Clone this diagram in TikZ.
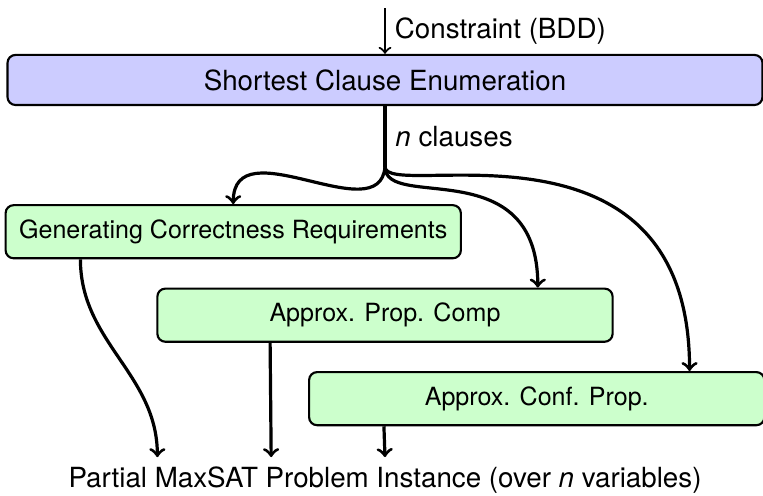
\documentclass[tikz,border=0pt]{standalone}
\usepackage{fontspec}
\setmainfont{TeX Gyre Heros}
\usepackage{tikz}
\usetikzlibrary{positioning,shapes,arrows,calc}

\begin{document}
\begin{tikzpicture}[
      font=\fontsize{10.4pt}{12.5pt}\selectfont,
      block/.style={rectangle, draw=black, thick, rounded corners=3pt, align=center, minimum width=6cm, minimum height=0.7cm, fill=green!20, font=\fontsize{9.4pt}{11pt}\selectfont},
      flow/.style={->, very thick}
      ]
      \useasboundingbox (-5.074,-5.483) rectangle (4.982,1.054);
      \node[block, fill=blue!20, minimum width=9.95cm, minimum height=0.66cm, font=\fontsize{10.4pt}{12.5pt}\selectfont] (ENUM) at (0,0) {Shortest Clause Enumeration};
      \node[block] (GEN) at (-2,-2) {Generating Correctness Requirements};
      \node[block] (APC) at (0,-3.1) {Approx. Prop. Comp};
      \node[block] (ACP) at (2,-4.2) {Approx. Conf. Prop.};
      \node (OUT) at (0,-5.27) {Partial MaxSAT Problem Instance (over \textit{n} variables)};
      \coordinate (IN) at ($(ENUM.north)+(0,0.6)$);
      \coordinate (JUNC) at ($(ENUM.south)+(0,-0.8)$);
      \draw[->, thick] (IN) -- node[right] {Constraint (BDD)} (ENUM.north);
      \draw[very thick] (ENUM.south) -- node[right] {\textit{n} clauses} (JUNC);
      \draw[flow] (JUNC) .. controls +(-0.07,-0.86) and +(0,1.03) .. (GEN.north);
      \draw[flow] (JUNC) .. controls +(0,-0.59) and +(0,1.81) .. ([xshift=-1cm]APC.north east);
      \draw[flow] (JUNC) .. controls +(0,-0.46) and +(0,3.56) .. ([xshift=-1cm]ACP.north east);
      \draw[flow] ([xshift=1cm]GEN.south west) to[out=-90,in=90] ([xshift=-3cm]OUT.north);
      \draw[flow] ([xshift=1.5cm]APC.south west) -- ([xshift=-1.5cm]OUT.north);
      \draw[flow] ([xshift=1cm]ACP.south west) -- (OUT.north);
    \end{tikzpicture}
\end{document}
